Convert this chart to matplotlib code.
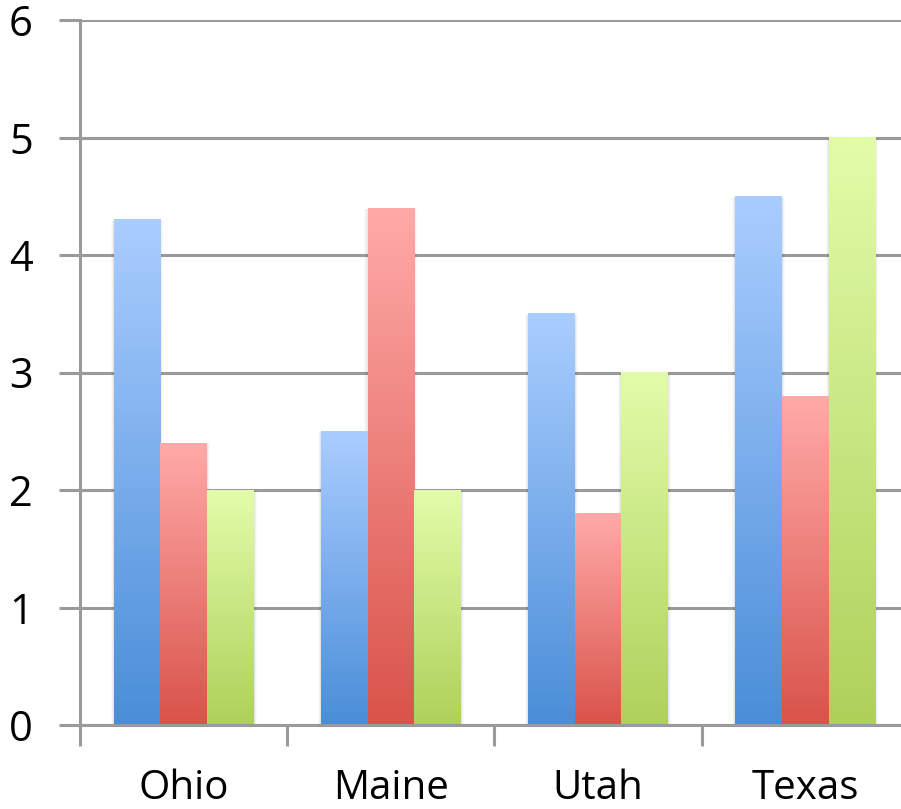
import numpy as np
import matplotlib
matplotlib.use("Agg")
import matplotlib.pyplot as plt
from matplotlib.colors import LinearSegmentedColormap
from matplotlib.patches import Rectangle

categories = ["Ohio", "Maine", "Utah", "Texas"]
series1 = [4.3, 2.5, 3.5, 4.5]
series2 = [2.4, 4.4, 1.8, 2.8]
series3 = [2.0, 2.0, 3.0, 5.0]
yticks = [0, 1, 2, 3, 4, 5, 6]

grads = [("#AACDFF", "#4A8ED8"), ("#FFAAA8", "#D9534A"), ("#E3FCAA", "#AED15A")]

plt.rcParams['font.family'] = ['Open Sans', 'DejaVu Sans']
fig = plt.figure(figsize=(9.01, 8.09), dpi=100)
ax = fig.add_axes([80/901, 1-725/809, 829/901, 705/809])

n = len(categories)
x = np.arange(n)
width = 0.225
offsets = [-width, 0, width]
allseries = [series1, series2, series3]

grid_c = "#9A9A9A"
ax.set_ylim(0, 6)
ax.set_xlim(-0.5, n - 0.5)
ax.set_yticks(yticks)
ax.yaxis.grid(True, color=grid_c, linewidth=2.2, zorder=0)
ax.set_axisbelow(True)

for si, (vals, off) in enumerate(zip(allseries, offsets)):
    bars = ax.bar(x + off, vals, width, color="none", edgecolor="none", zorder=3)
    cmap = LinearSegmentedColormap.from_list("g%d" % si, [grads[si][1], grads[si][0]])
    grad = np.linspace(0, 1, 256).reshape(-1, 1)
    for b in bars:
        x0, y0 = b.get_x(), b.get_y()
        w, h = b.get_width(), b.get_height()
        # soft side shadow
        for k, a in enumerate([0.05, 0.035, 0.02]):
            d = 0.005 * (k + 1)
            ax.add_patch(Rectangle((x0 - d, y0), w + 2 * d, h - 0.01,
                                   facecolor="black", alpha=a, edgecolor="none", zorder=2))
        ax.imshow(grad, extent=(x0, x0 + w, y0, y0 + h), origin="lower",
                  cmap=cmap, aspect="auto", zorder=3, interpolation="bilinear")

ax.set_xlim(-0.5, n - 0.5)
ax.set_ylim(0, 6)

for s in ["top", "right"]:
    ax.spines[s].set_visible(False)
for s in ["left", "bottom"]:
    ax.spines[s].set_color(grid_c)
    ax.spines[s].set_linewidth(2.2)
    ax.spines[s].set_zorder(4)

ax.set_xticks(np.arange(n + 1) - 0.5)
ax.set_xticklabels([])
ax.set_xticks(x, minor=True)
ax.set_xticklabels(categories, minor=True, fontsize=29)
ax.tick_params(axis="x", which="major", length=15, width=2.2, color=grid_c)
ax.tick_params(axis="x", which="minor", length=0, pad=31)
ax.tick_params(axis="y", length=15, width=2.2, color=grid_c, labelsize=30, pad=19)

fig.savefig("out.png", dpi=100)
